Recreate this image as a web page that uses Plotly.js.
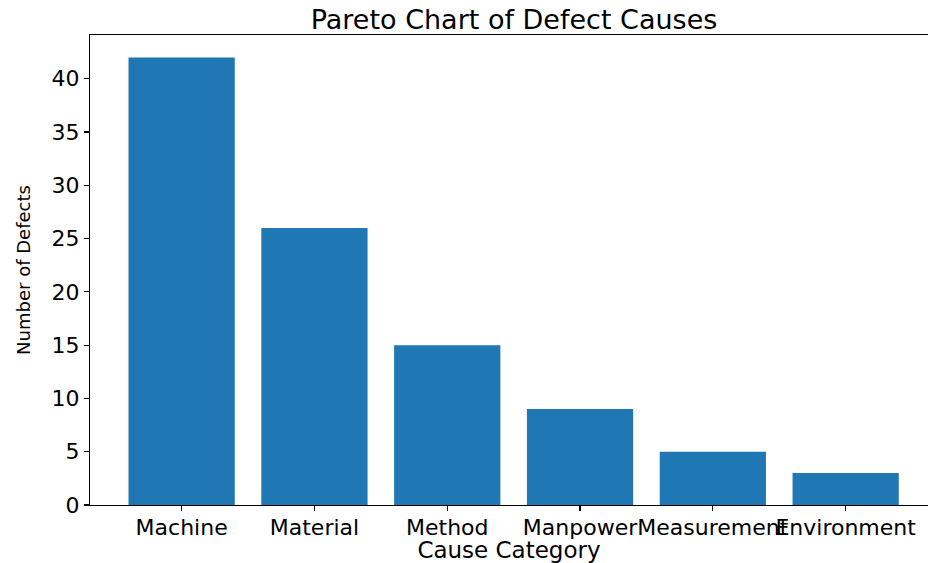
<!DOCTYPE html>
<html>
<head>
<meta charset="utf-8">
<script src="https://cdn.plot.ly/plotly-3.0.1.min.js"></script>
<style>html,body{margin:0;padding:0;background:#fff;}#chart{width:928px;height:563px;}</style>
</head>
<body>
<div id="chart"></div>
<script>
const categories = ["Machine", "Material", "Method", "Manpower", "Measurement", "Environment"];
const defects = [42, 26, 15, 9, 5, 3];
const yTicks = [0, 5, 10, 15, 20, 25, 30, 35, 40];

const font = "DejaVu Sans, sans-serif";
const trace = {
  type: "bar",
  x: categories,
  y: defects,
  width: 0.8,
  marker: {color: "#1f77b4", line: {width: 0}},
  hoverinfo: "x+y"
};
const layout = {
  width: 928, height: 563,
  margin: {l: 90, r: 0, t: 35, b: 58},
  paper_bgcolor: "#fff", plot_bgcolor: "#fff",
  showlegend: false,
  title: {
    text: "Pareto Chart of Defect Causes",
    font: {family: font, size: 27, color: "#000"},
    xref: "paper", x: 0.506, xanchor: "center",
    yref: "container", y: 0.966, yanchor: "middle"
  },
  xaxis: {
    type: "category",
    range: [-0.69, 5.62],
    showgrid: false, zeroline: false,
    showline: true, linecolor: "#000", linewidth: 1.2, mirror: true,
    ticks: "outside", ticklen: 5, tickwidth: 1.2, tickcolor: "#000",
    tickangle: 0, ticklabelstandoff: -3,
    tickfont: {family: font, size: 22, color: "#000"},
    title: {text: "Cause Category", font: {family: font, size: 23, color: "#000"}, standoff: 2}
  },
  yaxis: {
    range: [0, 44.1],
    tickvals: yTicks,
    showgrid: false, zeroline: false,
    showline: true, linecolor: "#000", linewidth: 1.2,
    ticks: "outside", ticklen: 5, tickwidth: 1.2, tickcolor: "#000",
    tickfont: {family: font, size: 22, color: "#000"},
    title: {text: "Number of Defects", font: {family: font, size: 18, color: "#000"}, standoff: 16}
  }
};
Plotly.newPlot("chart", [trace], layout, {displayModeBar: false, staticPlot: true});
</script>
</body>
</html>
